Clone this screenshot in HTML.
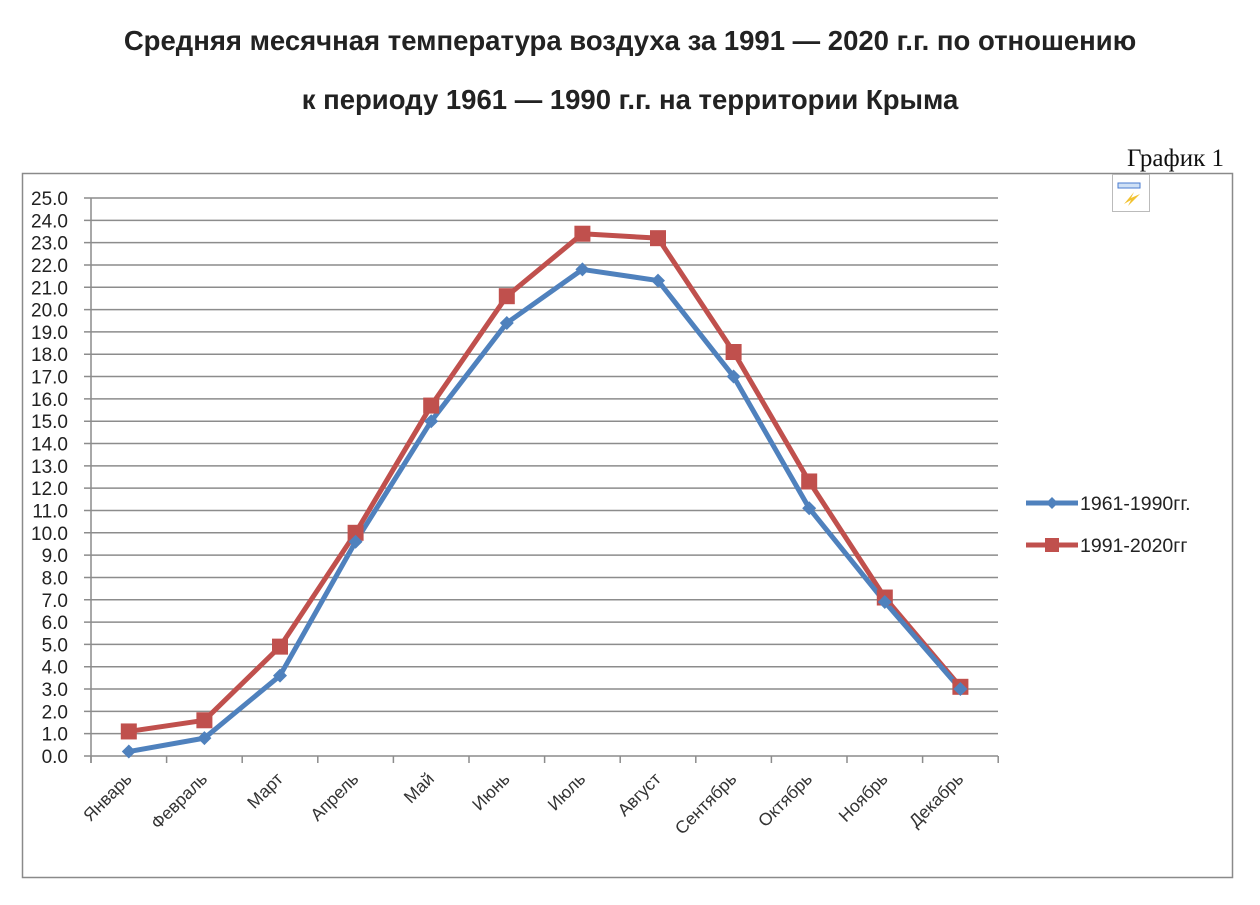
<!DOCTYPE html>
<html><head><meta charset="utf-8"><style>
body{margin:0;background:#fff;width:1260px;height:900px;overflow:hidden}
</style></head><body>
<svg width="1260" height="900" xmlns="http://www.w3.org/2000/svg" font-family="'Liberation Sans','DejaVu Sans',sans-serif">
<text x="630" y="50" text-anchor="middle" font-size="27.5" font-weight="bold" fill="#222">Средняя месячная температура воздуха за 1991 — 2020 г.г. по отношению</text>
<text x="630" y="109" text-anchor="middle" font-size="27.5" font-weight="bold" fill="#222">к периоду 1961 — 1990 г.г. на территории Крыма</text>
<text x="1224" y="166" text-anchor="end" font-size="25" font-family="'Liberation Serif',serif" fill="#111">График 1</text>
<rect x="22.5" y="173.5" width="1210" height="704" fill="none" stroke="#8a8a8a" stroke-width="1.5"/>
<rect x="1112.5" y="174.5" width="37" height="37" fill="#fff" stroke="#bbb"/>
<rect x="1118" y="183" width="22" height="5" fill="#cfe0f5" stroke="#4a7bd0"/>
<path d="M1124 204 L1134 192 L1131 198 L1140 194 L1128 206 L1131 200 Z" fill="#f2c230"/>
<g id="grid" stroke="#8c8c8c" stroke-width="1.5"></g>
<g id="ylab" font-size="19" fill="#222" text-anchor="end"></g>
<g id="xlab" font-size="17.5" fill="#333"></g>
<g id="series"></g>
<line x1="1026" y1="503" x2="1078" y2="503" stroke="#4f81bd" stroke-width="5"/>
<path d="M1052 497 L1058 503 L1052 509 L1046 503 Z" fill="#4f81bd"/>
<text x="1080" y="510" font-size="19.5" fill="#222">1961-1990гг.</text>
<line x1="1026" y1="545" x2="1078" y2="545" stroke="#c0504d" stroke-width="5"/>
<rect x="1045" y="538" width="14" height="14" fill="#c0504d"/>
<text x="1080" y="552" font-size="19.5" fill="#222">1991-2020гг</text>
</svg>
<script>
const ns="http://www.w3.org/2000/svg";
function el(p,t,a,txt){const e=document.createElementNS(ns,t);for(const k in a)e.setAttribute(k,a[k]);if(txt!==undefined)e.textContent=txt;document.getElementById(p).appendChild(e);return e;}
const y0=756,py=22.32,x0=91,cw=75.6;
const Y=v=>y0-v*py, X=i=>x0+cw*(i+0.5);
for(let v=0;v<=25;v++){const y=Y(v);el('grid','line',{x1:84,y1:y,x2:998,y2:y});el('ylab','text',{x:68,y:y+7},v.toFixed(1));}
el('grid','line',{x1:x0,y1:Y(25),x2:x0,y2:y0+7});
for(let i=0;i<=12;i++){const x=x0+cw*i;el('grid','line',{x1:x,y1:y0,x2:x,y2:y0+7});}
const m=["Январь","Февраль","Март","Апрель","Май","Июнь","Июль","Август","Сентябрь","Октябрь","Ноябрь","Декабрь"];
m.forEach((s,i)=>{const x=X(i)+4,y=y0+24;el('xlab','text',{x:x,y:y,'text-anchor':'end',transform:`rotate(-45 ${x} ${y})`},s);});
const b=[0.2,0.8,3.6,9.6,15.0,19.4,21.8,21.3,17.0,11.1,6.9,3.0];
const r=[1.1,1.6,4.9,10.0,15.7,20.6,23.4,23.2,18.1,12.3,7.1,3.1];
el('series','polyline',{points:r.map((v,i)=>X(i)+','+Y(v)).join(' '),fill:'none',stroke:'#c0504d','stroke-width':5,'stroke-linejoin':'round'});
el('series','polyline',{points:b.map((v,i)=>X(i)+','+Y(v)).join(' '),fill:'none',stroke:'#4f81bd','stroke-width':5,'stroke-linejoin':'round'});
r.forEach((v,i)=>el('series','rect',{x:X(i)-8,y:Y(v)-8,width:16,height:16,fill:'#c0504d'}));
b.forEach((v,i)=>{const x=X(i),y=Y(v);el('series','path',{d:`M${x} ${y-7}L${x+7} ${y}L${x} ${y+7}L${x-7} ${y}Z`,fill:'#4f81bd'});});
</script>
</body></html>
